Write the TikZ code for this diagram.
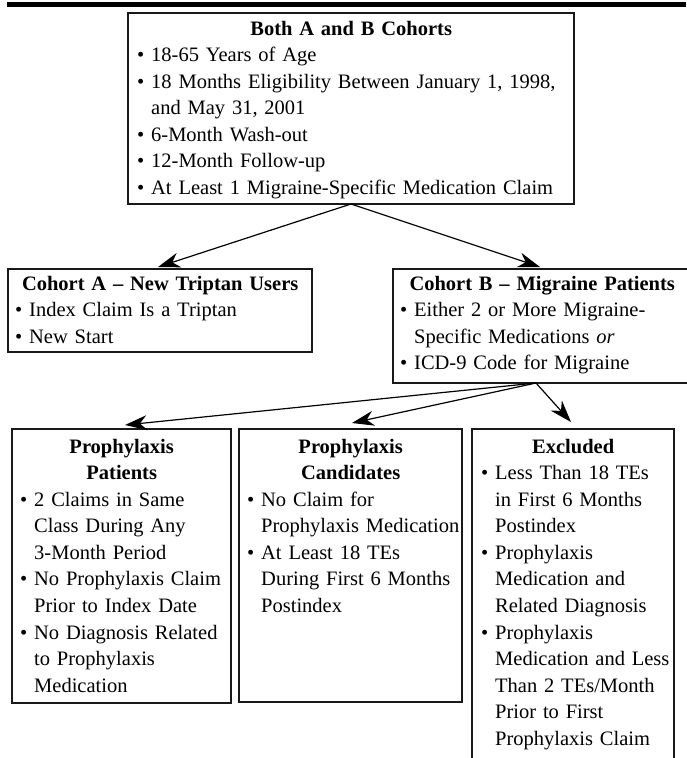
\documentclass[tikz,border=0pt]{standalone}
\usepackage{fontspec}
\setmainfont{Liberation Serif}
\usetikzlibrary{arrows.meta}
\newlength\bind
\setlength\bind{14pt}
\newcommand\bitem[1]{\par\hangindent=\bind\hangafter=1\noindent\hbox to \bind{\textbullet\hss}#1}
\newcommand\btitle[1]{{\centering\bfseries\rule{0pt}{16pt}#1\par}}
\begin{document}
\begin{tikzpicture}[x=1pt,y=-1pt,
  frame/.style={draw=black!90, line width=1.3pt, anchor=north west, inner sep=0pt, outer sep=0pt},
  tx/.style={anchor=north west, inner sep=0pt, align=left, font=\fontsize{20.5}{26.55}\selectfont},
  arr/.style={-{Stealth[length=22pt,width=15pt,inset=7pt]}, line width=1.2pt}]
\useasboundingbox (0,0) rectangle (686,758);
\fill[black] (7,1.5) rectangle (686,7);
% frames
\node[frame, minimum width=446pt, minimum height=191pt] (top) at (128,13) {};
\node[frame, minimum width=304pt, minimum height=83pt] (cohA) at (8,269) {};
\node[frame, minimum width=296pt, minimum height=114pt] (cohB) at (393,269) {};
\node[frame, minimum width=219pt, minimum height=274pt] (pp) at (12,429) {};
\node[frame, minimum width=223pt, minimum height=273pt] (pc) at (239,429) {};
\node[frame, minimum width=202pt, minimum height=335pt] (ex) at (472,429) {};
% texts
\node[tx, text width=428pt] (topT) at (137,19) {%
\btitle{Both A and B Cohorts}
\bitem{\mbox{18-65 Years of Age}}
\bitem{\mbox{18 Months Eligibility Between January 1, 1998,}\newline\mbox{and May 31, 2001}}
\bitem{\mbox{6-Month Wash-out}}
\bitem{\mbox{12-Month Follow-up}}
\bitem{\mbox{At Least 1 Migraine-Specific Medication Claim}}\par};
\node[tx, text width=290pt] (cohAT) at (15,274) {%
\btitle{Cohort A -- New Triptan Users}
\bitem{\mbox{Index Claim Is a Triptan}}
\bitem{\mbox{New Start}}\par};
\node[tx, text width=284pt] (cohBT) at (400,274) {%
\btitle{Cohort B -- Migraine Patients}
\bitem{\mbox{Either 2 or More Migraine-}\newline\mbox{Specific Medications \textit{or}}}
\bitem{\mbox{ICD-9 Code for Migraine}}\par};
\node[tx, text width=203pt] (ppT) at (20,437) {%
\btitle{Prophylaxis\\Patients}
\bitem{\mbox{2 Claims in Same}\newline\mbox{Class During Any}\newline\mbox{3-Month Period}}
\bitem{\mbox{No Prophylaxis Claim}\newline\mbox{Prior to Index Date}}
\bitem{\mbox{No Diagnosis Related}\newline\mbox{to Prophylaxis}\newline\mbox{Medication}}\par};
\node[tx, text width=207pt] (pcT) at (247,437) {%
\btitle{Prophylaxis\\Candidates}
\bitem{\mbox{No Claim for}\newline\mbox{Prophylaxis Medication}}
\bitem{\mbox{At Least 18 TEs}\newline\mbox{During First 6 Months}\newline\mbox{Postindex}}\par};
\node[tx, text width=184pt] (exT) at (481,437) {%
\btitle{Excluded}
\bitem{\mbox{Less Than 18 TEs}\newline\mbox{in First 6 Months}\newline\mbox{Postindex}}
\bitem{\mbox{Prophylaxis}\newline\mbox{Medication and}\newline\mbox{Related Diagnosis}}
\bitem{\mbox{Prophylaxis}\newline\mbox{Medication and Less}\newline\mbox{Than 2 TEs/Month}\newline\mbox{Prior to First}\newline\mbox{Prophylaxis Claim}}\par};
% connectors
\coordinate (bsplit) at (536,383);
\coordinate (tA) at (158,267);
\coordinate (tB) at (540,267);
\coordinate (t1) at (125,425);
\coordinate (t2) at (352,423);
\coordinate (t3) at (571,422);
\draw[arr] (top.south) -- (tA);
\draw[arr] (top.south) -- (tB);
\draw[arr] (bsplit) -- (t1);
\draw[arr] (bsplit) -- (t2);
\draw[arr] (bsplit) -- (t3);
\end{tikzpicture}
\end{document}
